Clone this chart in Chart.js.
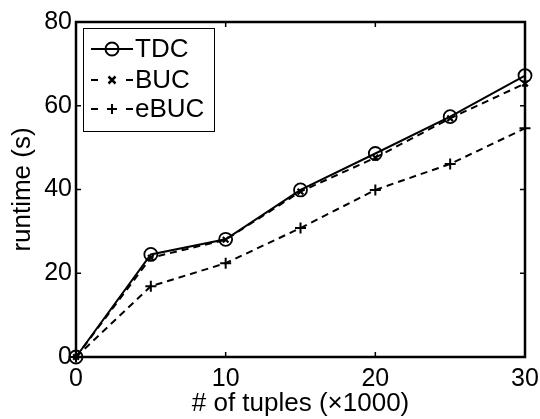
<!DOCTYPE html>
<html><head><meta charset="utf-8">
<script src="https://cdn.jsdelivr.net/npm/chart.js@4/dist/chart.umd.min.js"></script>
<style>html,body{margin:0;padding:0;background:#fff;}#wrap{width:540px;height:419px;}</style>
</head><body><div id="wrap"><canvas id="c" width="540" height="419"></canvas></div>
<script>
const xValues = [0, 5, 10, 15, 20, 25, 30];
const tdc  = [0, 24.5, 28.1, 39.9, 48.6, 57.4, 67.2];
const buc  = [0, 23.7, 28.0, 39.5, 47.6, 57.0, 65.3];
const ebuc = [0, 16.9, 22.4, 30.8, 39.9, 46.1, 54.6];
const xTicks = [0, 10, 20, 30];
const yTicks = [0, 20, 40, 60, 80];
const seriesNames = ['TDC', 'BUC', 'eBUC'];

const FONT = '"Liberation Sans", Arial, sans-serif';
const toPts = arr => arr.map((v, i) => ({x: xValues[i], y: v}));

const frame = {
  id: 'frame',
  afterDatasetsDraw(chart) {
    const {ctx, chartArea: a, scales: {x, y}} = chart;
    ctx.save();
    ctx.strokeStyle = '#000';
    ctx.lineWidth = 2.5;
    ctx.strokeRect(a.left, a.top, a.right - a.left, a.bottom - a.top);
    ctx.lineWidth = 1.5;
    const tl = 5;
    xTicks.forEach(v => {
      const px = x.getPixelForValue(v);
      ctx.beginPath();
      ctx.moveTo(px, a.bottom); ctx.lineTo(px, a.bottom - tl);
      ctx.moveTo(px, a.top); ctx.lineTo(px, a.top + tl);
      ctx.stroke();
    });
    yTicks.forEach(v => {
      const py = y.getPixelForValue(v);
      ctx.beginPath();
      ctx.moveTo(a.left, py); ctx.lineTo(a.left + tl, py);
      ctx.moveTo(a.right, py); ctx.lineTo(a.right - tl, py);
      ctx.stroke();
    });
    // legend
    const bx = 83, by = 28, bw = 131, bh = 103;
    ctx.fillStyle = '#fff';
    ctx.fillRect(bx, by, bw, bh);
    ctx.lineWidth = 1;
    ctx.strokeRect(bx + 0.5, by + 0.5, bw, bh);
    const rows = [49, 80, 109];
    chart.data.datasets.forEach((ds, i) => {
      const ry = rows[i];
      const x0 = 91, x1 = 133, xm = 112;
      ctx.strokeStyle = '#000';
      ctx.lineWidth = 2;
      ctx.beginPath();
      if (i === 0) {
        ctx.moveTo(x0, ry); ctx.lineTo(x1, ry);
      } else {
        ctx.moveTo(x0, ry); ctx.lineTo(x0 + 7, ry);
        ctx.moveTo(x1 - 7, ry); ctx.lineTo(x1, ry);
      }
      ctx.stroke();
      ctx.beginPath();
      if (i === 0) {
        ctx.arc(xm, ry, 6.5, 0, Math.PI * 2);
      } else if (i === 1) {
        const r = 3.5;
        ctx.moveTo(xm - r, ry - r); ctx.lineTo(xm + r, ry + r);
        ctx.moveTo(xm - r, ry + r); ctx.lineTo(xm + r, ry - r);
        ctx.lineWidth = 2.5;
      } else {
        const r = 5;
        ctx.moveTo(xm - r, ry); ctx.lineTo(xm + r, ry);
        ctx.moveTo(xm, ry - r); ctx.lineTo(xm, ry + r);
      }
      ctx.stroke();
      ctx.fillStyle = '#000';
      ctx.font = '26px ' + FONT;
      ctx.textBaseline = 'middle';
      ctx.textAlign = 'left';
      ctx.fillText(ds.label, 135, ry + 1);
    });
    ctx.restore();
  }
};

new Chart(document.getElementById('c'), {
  type: 'line',
  data: {
    datasets: [
      {label: seriesNames[0], data: toPts(tdc), clip: false, borderColor: '#000', borderWidth: 2, pointStyle: 'circle', pointRadius: 6.5, pointBorderWidth: 1.8, pointBackgroundColor: 'rgba(0,0,0,0)', pointBorderColor: '#000', order: 3},
      {label: seriesNames[1], data: toPts(buc), clip: false, borderColor: '#000', borderWidth: 2, borderDash: [7, 5], pointStyle: 'crossRot', pointRadius: 4, pointBorderWidth: 2.2, pointBorderColor: '#000', order: 2},
      {label: seriesNames[2], data: toPts(ebuc), clip: false, borderColor: '#000', borderWidth: 2, borderDash: [7, 5], pointStyle: 'cross', pointRadius: 5.5, pointBorderWidth: 2, pointBorderColor: '#000', order: 1}
    ]
  },
  options: {
    responsive: false,
    animation: false,
    devicePixelRatio: 1,
    layout: {padding: {top: 22, right: 15, left: 0, bottom: 0}},
    plugins: {legend: {display: false}, tooltip: {enabled: false}},
    scales: {
      x: {
        type: 'linear', min: 0, max: 30,
        afterBuildTicks: s => { s.ticks = xTicks.map(v => ({value: v})); },
        afterFit: s => { s.height = 62; s.paddingLeft = 0; s.paddingRight = 0; },
        grid: {display: false, drawTicks: false},
        border: {display: false},
        ticks: {color: '#000', font: {family: FONT, size: 25}, padding: 7, maxRotation: 0},
        title: {display: true, text: '# of tuples (×1000)', color: '#000', font: {family: FONT, size: 26}, padding: {top: 0, bottom: 0}}
      },
      y: {
        type: 'linear', min: 0, max: 80,
        afterBuildTicks: s => { s.ticks = yTicks.map(v => ({value: v})); },
        afterFit: s => { s.width = 76; s.paddingTop = 0; s.paddingBottom = 0; },
        grid: {display: false, drawTicks: false},
        border: {display: false},
        ticks: {color: '#000', font: {family: FONT, size: 25}, padding: 4},
        title: {display: true, text: 'runtime (s)', color: '#000', font: {family: FONT, size: 26}, padding: {top: 7, bottom: 0}}
      }
    }
  },
  plugins: [frame]
});
</script>
</body></html>
